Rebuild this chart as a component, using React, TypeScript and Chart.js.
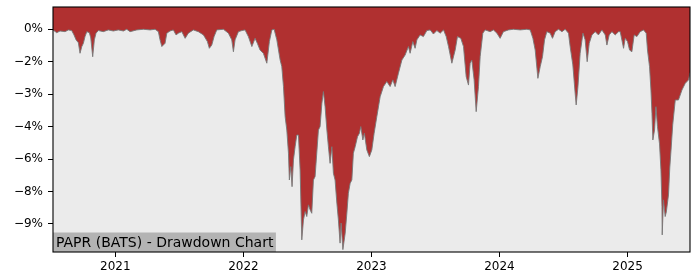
import React, { useEffect, useRef } from "react";
import { Chart, registerables } from "chart.js";

Chart.register(...registerables);

// Drawdown (%) by decimal year, [year, drawdown]
const series2020: [number, number][] = [
  [2020.513, -0.03], [2020.542, -0.16], [2020.568, -0.08], [2020.607, -0.11], [2020.633, -0.03],
  [2020.659, -0.06], [2020.677, -0.26], [2020.693, -0.49], [2020.711, -0.62], [2020.724, -1.11],
  [2020.738, -0.8], [2020.75, -0.65], [2020.763, -0.34], [2020.777, -0.11], [2020.797, -0.16],
  [2020.808, -0.4], [2020.823, -1.27], [2020.836, -0.49], [2020.849, -0.18], [2020.867, -0.06],
  [2020.906, -0.11], [2020.945, -0.03], [2020.984, -0.08],
];
const series2021: [number, number][] = [
  [2021.023, -0.03], [2021.063, -0.08], [2021.089, 0], [2021.115, -0.11], [2021.167, -0.03],
  [2021.219, 0], [2021.271, -0.03], [2021.31, 0], [2021.336, -0.11], [2021.349, -0.49],
  [2021.363, -0.8], [2021.388, -0.65], [2021.402, -0.18], [2021.427, -0.08], [2021.453, -0.03],
  [2021.474, -0.26], [2021.492, -0.18], [2021.519, -0.11], [2021.545, -0.42], [2021.57, -0.18],
  [2021.609, -0.03], [2021.648, -0.11], [2021.688, -0.26], [2021.719, -0.57], [2021.734, -0.88],
  [2021.753, -0.73], [2021.771, -0.34], [2021.792, -0.03], [2021.844, 0], [2021.883, -0.18],
  [2021.909, -0.49], [2021.922, -1.04], [2021.935, -0.49], [2021.961, -0.11], [2021.988, -0.06],
];
const series2022: [number, number][] = [
  [2022.013, -0.03], [2022.039, -0.34], [2022.066, -0.8], [2022.091, -0.42], [2022.109, -0.65],
  [2022.13, -0.96], [2022.156, -1.11], [2022.183, -1.57], [2022.203, -0.57], [2022.222, -0.03],
  [2022.24, 0], [2022.261, -0.49], [2022.287, -1.42], [2022.3, -1.73], [2022.313, -2.65],
  [2022.326, -4.04], [2022.339, -4.66], [2022.352, -5.73], [2022.359, -6.97], [2022.37, -6.35],
  [2022.38, -7.28], [2022.391, -6.04], [2022.404, -5.43], [2022.417, -4.89], [2022.43, -4.89],
  [2022.443, -6.5], [2022.456, -9.74], [2022.469, -8.82], [2022.482, -8.43], [2022.495, -8.66],
  [2022.508, -8.12], [2022.521, -8.35], [2022.534, -8.51], [2022.547, -6.97], [2022.56, -6.81],
  [2022.573, -5.73], [2022.586, -4.66], [2022.599, -4.5], [2022.613, -3.42], [2022.625, -2.88],
  [2022.638, -3.58], [2022.652, -4.66], [2022.664, -5.43], [2022.677, -6.2], [2022.691, -5.43],
  [2022.703, -6.66], [2022.716, -6.97], [2022.73, -8.04], [2022.742, -8.82], [2022.755, -9.89],
  [2022.763, -8.96], [2022.777, -10.19], [2022.795, -9.43], [2022.808, -8.51], [2022.82, -7.58],
  [2022.834, -7.12], [2022.847, -6.97], [2022.859, -5.73], [2022.873, -5.43], [2022.891, -4.97],
  [2022.906, -4.81], [2022.917, -4.5], [2022.933, -5.12], [2022.945, -4.81], [2022.964, -5.58],
  [2022.984, -5.89],
];
const series2023: [number, number][] = [
  [2023.003, -5.58], [2023.021, -4.81], [2023.042, -4.04], [2023.068, -3.12], [2023.094, -2.65],
  [2023.12, -2.42], [2023.146, -2.65], [2023.167, -2.34], [2023.185, -2.65], [2023.211, -2.03],
  [2023.238, -1.42], [2023.263, -1.19], [2023.289, -0.8], [2023.302, -1.11], [2023.323, -0.57],
  [2023.341, -0.88], [2023.355, -0.49], [2023.38, -0.26], [2023.406, -0.34], [2023.433, -0.06],
  [2023.459, -0.03], [2023.484, -0.22], [2023.511, -0.06], [2023.537, -0.18], [2023.563, -0.03],
  [2023.584, -0.34], [2023.602, -0.8], [2023.628, -1.57], [2023.654, -0.96], [2023.672, -0.34],
  [2023.698, -0.42], [2023.719, -0.8], [2023.74, -2.19], [2023.758, -2.58], [2023.771, -1.57],
  [2023.784, -1.42], [2023.802, -2.34], [2023.818, -3.81], [2023.836, -2.65], [2023.849, -1.27],
  [2023.87, -0.18], [2023.888, -0.03], [2023.927, -0.11], [2023.953, -0.03], [2023.98, -0.18],
];
const series2024: [number, number][] = [
  [2024.005, -0.42], [2024.031, -0.11], [2024.07, -0.03], [2024.109, 0], [2024.162, -0.03],
  [2024.214, 0], [2024.24, -0.03], [2024.261, -0.42], [2024.279, -0.96], [2024.3, -2.27],
  [2024.318, -1.73], [2024.336, -1.27], [2024.352, -0.49], [2024.37, -0.11], [2024.396, -0.18],
  [2024.414, -0.42], [2024.435, -0.11], [2024.461, 0], [2024.488, -0.11], [2024.513, 0],
  [2024.539, -0.18], [2024.552, -0.8], [2024.573, -1.65], [2024.591, -2.96], [2024.599, -3.5],
  [2024.613, -2.65], [2024.63, -1.11], [2024.652, -0.18], [2024.669, -0.49], [2024.685, -1.5],
  [2024.701, -0.65], [2024.722, -0.26], [2024.748, -0.11], [2024.773, -0.26], [2024.8, -0.03],
  [2024.826, -0.26], [2024.839, -0.73], [2024.857, -0.26], [2024.878, -0.11], [2024.904, -0.26],
  [2024.93, -0.11], [2024.943, -0.11], [2024.969, -0.88], [2024.982, -0.42],
];
const series2025: [number, number][] = [
  [2025.0, -0.57], [2025.016, -0.96], [2025.034, -1.04], [2025.052, -0.26], [2025.073, -0.34],
  [2025.099, -0.11], [2025.125, -0.03], [2025.146, -0.18], [2025.156, -0.96], [2025.172, -1.73],
  [2025.183, -2.81], [2025.191, -3.88], [2025.198, -5.12], [2025.211, -4.66], [2025.222, -3.58],
  [2025.234, -4.5], [2025.25, -5.3], [2025.261, -6.5], [2025.269, -8.2], [2025.271, -9.51],
  [2025.281, -7.89], [2025.294, -8.66], [2025.303, -8.45], [2025.32, -7.66], [2025.33, -6.41],
  [2025.341, -5.49], [2025.353, -4.42], [2025.373, -3.27], [2025.398, -3.27], [2025.425, -2.81],
  [2025.451, -2.5], [2025.477, -2.34], [2025.488, -2.0],
];

const xTickValues = [2021, 2022, 2023, 2024, 2025];
const xTickLabels = ["2021", "2022", "2023", "2024", "2025"];
const yTickValues = [0, -1.5, -3, -4.5, -6, -7.5, -9];
const yTickLabels = ["0%", "\u22122%", "\u22123%", "\u22124%", "\u22126%", "\u22128%", "\u22129%"];
const chartLabel = "PAPR (BATS) - Drawdown Chart";

const FONT = "'DejaVu Sans', sans-serif";

export default function App() {
  const canvasRef = useRef<HTMLCanvasElement | null>(null);

  useEffect(() => {
    const canvas = canvasRef.current;
    if (!canvas) return;
    const all = [...series2020, ...series2021, ...series2022, ...series2023, ...series2024, ...series2025];
    const points = all.map(([x, y]) => ({ x, y }));

    const framePlugin = {
      id: "frame",
      beforeDraw(chart: any) {
        const { ctx, chartArea: a } = chart;
        ctx.save();
        ctx.fillStyle = "#ffffff";
        ctx.fillRect(0, 0, chart.width, chart.height);
        ctx.fillStyle = "#ebebeb";
        ctx.fillRect(a.left, a.top, a.right - a.left, a.bottom - a.top);
        ctx.restore();
      },
      afterDatasetsDraw(chart: any) {
        const { ctx, chartArea: a } = chart;
        ctx.save();
        ctx.font = "14px " + FONT;
        const w = ctx.measureText(chartLabel).width;
        ctx.fillStyle = "#b3b3b3";
        ctx.fillRect(a.left, a.bottom - 19.5, w + 5.5, 19.5);
        ctx.fillStyle = "#000000";
        ctx.textBaseline = "alphabetic";
        ctx.textAlign = "left";
        ctx.fillText(chartLabel, a.left + 3, a.bottom - 5);
        ctx.restore();
      },
      afterDraw(chart: any) {
        const { ctx, chartArea: a } = chart;
        ctx.save();
        ctx.strokeStyle = "#000000";
        ctx.lineWidth = 1.1;
        ctx.strokeRect(a.left, a.top, a.right - a.left, a.bottom - a.top);
        ctx.restore();
      },
    };

    const chart = new Chart(canvas, {
      type: "line",
      data: {
        datasets: [
          {
            data: points,
            borderColor: "rgba(120,120,120,0.9)",
            borderWidth: 1,
            backgroundColor: "#b03030",
            fill: "end",
            pointRadius: 0,
            tension: 0,
          },
        ],
      },
      options: {
        responsive: false,
        animation: false,
        devicePixelRatio: 1,
        layout: { padding: { top: 7, right: 10, left: 0, bottom: 0 } },
        plugins: { legend: { display: false }, tooltip: { enabled: false } },
        scales: {
          x: {
            type: "linear",
            min: 2020.513,
            max: 2025.488,
            afterFit: (s: any) => {
              s.height = 28;
              s.paddingLeft = 0;
              s.paddingRight = 0;
            },
            afterBuildTicks: (s: any) => {
              s.ticks = xTickValues.map((v) => ({ value: v }));
            },
            grid: { display: true, drawOnChartArea: false, drawTicks: true, tickLength: 5, tickColor: "#000", color: "#000" },
            border: { display: false },
            ticks: {
              autoSkip: false,
              maxRotation: 0,
              padding: 3,
              color: "#000",
              font: { family: FONT, size: 12 },
              callback: (v: any) => {
                const i = xTickValues.indexOf(Number(v));
                return i >= 0 ? xTickLabels[i] : "";
              },
            },
          },
          y: {
            type: "linear",
            min: -10.3,
            max: 1.03,
            afterFit: (s: any) => {
              s.width = 53;
              s.paddingTop = 0;
              s.paddingBottom = 0;
            },
            afterBuildTicks: (s: any) => {
              s.ticks = yTickValues.map((v) => ({ value: v }));
            },
            grid: { display: true, drawOnChartArea: false, drawTicks: true, tickLength: 5, tickColor: "#000", color: "#000" },
            border: { display: false },
            ticks: {
              autoSkip: false,
              padding: 5,
              color: "#000",
              font: { family: FONT, size: 12 },
              callback: (v: any) => {
                const i = yTickValues.findIndex((t) => Math.abs(t - Number(v)) < 1e-6);
                return i >= 0 ? yTickLabels[i] : "";
              },
            },
          },
        },
      },
      plugins: [framePlugin],
    } as any);

    return () => chart.destroy();
  }, []);

  return (
    <div style={{ position: "absolute", left: 0, top: 0, width: 700, height: 280, background: "#fff" }}>
      <canvas ref={canvasRef} width={700} height={280} style={{ width: 700, height: 280, display: "block" }} />
    </div>
  );
}
